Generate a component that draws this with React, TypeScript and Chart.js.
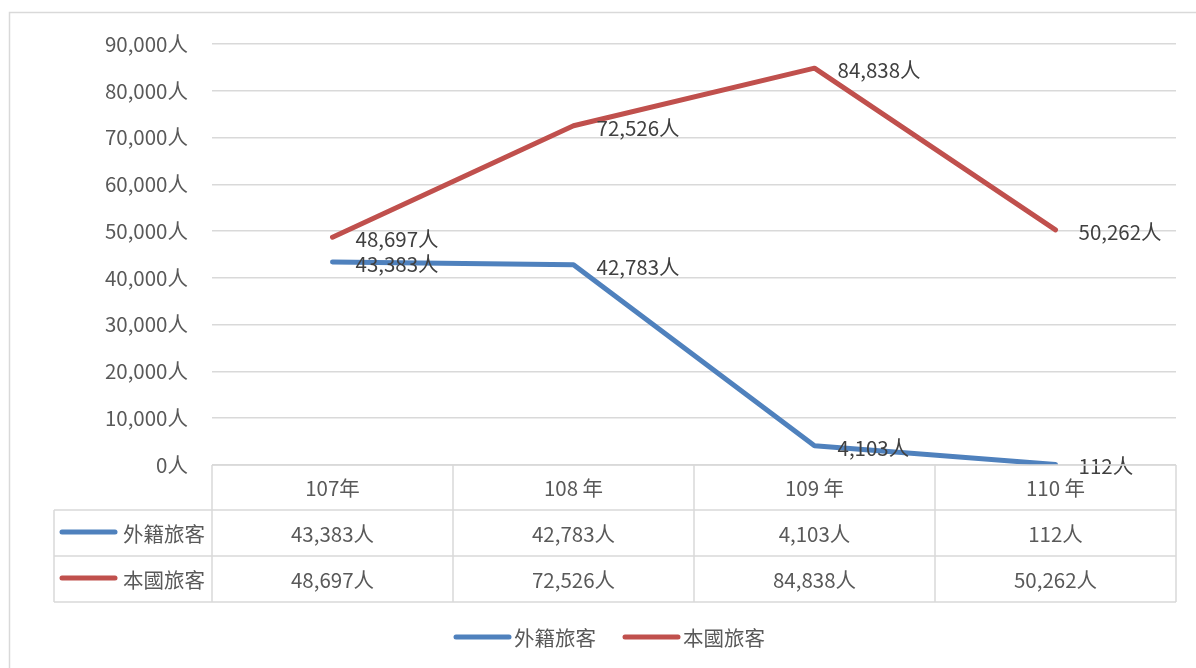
import React, { useEffect, useRef } from "react";
import { Chart, registerables } from "chart.js";

Chart.register(...registerables);

const categories = ["107年", "108 年", "109 年", "110 年"];
const seriesNames = ["外籍旅客", "本國旅客"];
const foreignValues = [43383, 42783, 4103, 112];
const domesticValues = [48697, 72526, 84838, 50262];
const seriesColors = ["#4F81BD", "#C0504D"];
const yTicks = [0, 10000, 20000, 30000, 40000, 50000, 60000, 70000, 80000, 90000];

const FONT = '"Noto Sans CJK TC", "Noto Sans", sans-serif';
const FS = 20.5;
const fmt = (v: number) => v.toLocaleString("en-US") + "人";

const W = 1196;
const H = 668;

const overlayPlugin = {
  id: "overlay",
  afterDatasetsDraw(chart: any) {
    const ctx = chart.ctx;
    ctx.save();
    ctx.font = `${FS}px ${FONT}`;
    ctx.fillStyle = "#404040";
    ctx.textAlign = "left";
    ctx.textBaseline = "middle";
    chart.data.datasets.forEach((ds: any, di: number) => {
      const meta = chart.getDatasetMeta(di);
      meta.data.forEach((pt: any, i: number) => {
        ctx.fillText(fmt(ds.data[i]), pt.x + 23, pt.y + 2);
      });
    });
    ctx.restore();
  },
  afterDraw(chart: any) {
    const ctx = chart.ctx;
    const area = chart.chartArea;
    const xs = chart.scales.x;
    const left = area.left;
    const right = area.right;
    const top = area.bottom;
    const rowH = [45, 46, 46];
    const r1 = top + rowH[0];
    const r2 = r1 + rowH[1];
    const r3 = r2 + rowH[2];
    const legLeft = 54;
    const n = categories.length;
    const colW = (right - left) / n;
    ctx.save();
    ctx.strokeStyle = "#d9d9d9";
    ctx.lineWidth = 1.5;
    // outer chart border
    ctx.beginPath();
    ctx.moveTo(9.5, H);
    ctx.lineTo(9.5, 12.5);
    ctx.lineTo(W, 12.5);
    ctx.stroke();
    // table
    ctx.beginPath();
    ctx.moveTo(left, top);
    ctx.lineTo(right, top);
    ctx.moveTo(legLeft, r1);
    ctx.lineTo(right, r1);
    ctx.moveTo(legLeft, r2);
    ctx.lineTo(right, r2);
    ctx.moveTo(legLeft, r3);
    ctx.lineTo(right, r3);
    ctx.moveTo(legLeft, r1);
    ctx.lineTo(legLeft, r3);
    for (let i = 0; i <= n; i++) {
      const x = left + colW * i;
      ctx.moveTo(x, top);
      ctx.lineTo(x, r3);
    }
    ctx.stroke();

    ctx.font = `${FS}px ${FONT}`;
    ctx.fillStyle = "#595959";
    ctx.textAlign = "center";
    ctx.textBaseline = "middle";
    categories.forEach((c, i) => {
      const cx = xs.getPixelForValue(i);
      ctx.fillText(c, cx, (top + r1) / 2 + 1);
    });
    const rows = [foreignValues, domesticValues];
    const rowTops = [r1, r2];
    rows.forEach((vals, ri) => {
      const cy = rowTops[ri] + rowH[ri + 1] / 2 + 1;
      vals.forEach((v, i) => {
        const cx = xs.getPixelForValue(i);
        ctx.fillText(fmt(v), cx, cy);
      });
      // legend key
      ctx.strokeStyle = seriesColors[ri];
      ctx.lineWidth = 5;
      ctx.lineCap = "round";
      ctx.beginPath();
      ctx.moveTo(62, cy - 2);
      ctx.lineTo(115, cy - 2);
      ctx.stroke();
      ctx.textAlign = "right";
      ctx.fillText(seriesNames[ri], 205, cy);
      ctx.textAlign = "center";
    });

    // bottom legend
    const ly = 637;
    const legendItems = [
      { x: 456, name: seriesNames[0], color: seriesColors[0] },
      { x: 625, name: seriesNames[1], color: seriesColors[1] },
    ];
    legendItems.forEach((it) => {
      ctx.strokeStyle = it.color;
      ctx.lineWidth = 5;
      ctx.lineCap = "round";
      ctx.beginPath();
      ctx.moveTo(it.x, ly);
      ctx.lineTo(it.x + 53, ly);
      ctx.stroke();
      ctx.textAlign = "left";
      ctx.fillText(it.name, it.x + 58, ly + 1);
    });
    ctx.restore();
  },
};

export default function App() {
  const ref = useRef<HTMLCanvasElement | null>(null);
  useEffect(() => {
    if (!ref.current) return;
    const chart = new Chart(ref.current, {
      type: "line",
      data: {
        labels: categories,
        datasets: [
          {
            label: seriesNames[0],
            data: foreignValues,
            borderColor: seriesColors[0],
            backgroundColor: seriesColors[0],
            borderWidth: 5,
            pointRadius: 0,
            tension: 0,
            borderCapStyle: "round",
            borderJoinStyle: "round",
          },
          {
            label: seriesNames[1],
            data: domesticValues,
            borderColor: seriesColors[1],
            backgroundColor: seriesColors[1],
            borderWidth: 5,
            pointRadius: 0,
            tension: 0,
            borderCapStyle: "round",
            borderJoinStyle: "round",
          },
        ],
      },
      options: {
        responsive: false,
        animation: false,
        devicePixelRatio: 1,
        layout: { padding: { left: 0, right: 20, top: 44, bottom: 203 } },
        plugins: {
          legend: { display: false },
          tooltip: { enabled: false },
          title: { display: false },
        },
        scales: {
          x: {
            type: "category",
            display: false,
            offset: true,
          },
          y: {
            min: 0,
            max: 90000,
            afterFit: (scale: any) => {
              scale.width = 212;
            },
            afterBuildTicks: (scale: any) => {
              scale.ticks = yTicks.map((v) => ({ value: v }));
            },
            border: { display: false },
            grid: { color: "#d9d9d9", lineWidth: 1.5, drawTicks: false },
            ticks: {
              padding: 24,
              color: "#595959",
              font: { family: FONT, size: FS },
              callback: (v: any) => fmt(Number(v)),
            },
          },
        },
      },
      plugins: [overlayPlugin],
    });
    return () => chart.destroy();
  }, []);
  return (
    <div style={{ position: "fixed", left: 0, top: 0, width: W, height: H, background: "#fff" }}>
      <canvas ref={ref} width={W} height={H} style={{ width: W, height: H, display: "block" }} />
    </div>
  );
}
